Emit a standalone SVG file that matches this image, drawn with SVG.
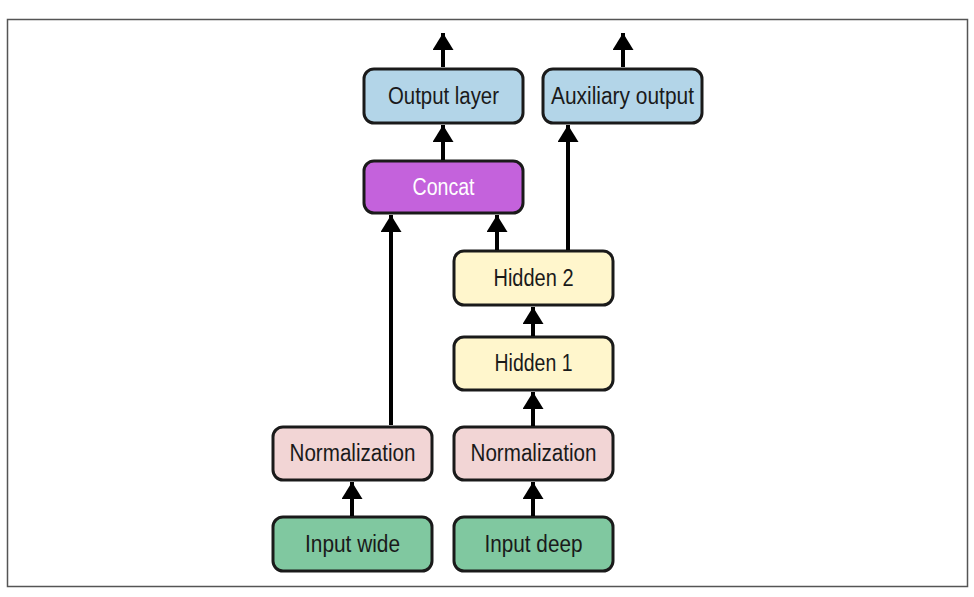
<svg xmlns="http://www.w3.org/2000/svg" width="974" height="597" viewBox="0 0 974 597">
<defs>
<marker id="ah" viewBox="0 0 17 21" refX="17" refY="10.5" markerWidth="4.25" markerHeight="5.25" orient="auto" markerUnits="strokeWidth">
<path d="M0,0 L17,10.5 L0,21 Z" fill="#000"/>
</marker>
</defs>
<style>
.node rect{stroke:#1a1a1a;stroke-width:3}
.node text{font-family:"Liberation Sans",Arial,sans-serif;font-size:23px;text-anchor:middle;fill:#1a1a1a}
.out rect{fill:#b3d5e8}
.cat rect{fill:#c462dc}
.cat text{fill:#fff}
.hid rect{fill:#fff6cc}
.nrm rect{fill:#f2d5d5}
.inp rect{fill:#80c8a0}
.conn line{stroke:#000;stroke-width:4;marker-end:url(#ah)}
</style>
<rect x="7.5" y="19.5" width="960" height="567" fill="#fff" stroke="#555" stroke-width="1.5"/>
<g id="output-layer" class="node out"><rect x="364" y="69" width="159" height="54" rx="10"/><text x="443.5" y="104" textLength="111" lengthAdjust="spacingAndGlyphs">Output layer</text></g>
<g id="auxiliary-output" class="node out"><rect x="543" y="69" width="159" height="54" rx="10"/><text x="622.5" y="104" textLength="143" lengthAdjust="spacingAndGlyphs">Auxiliary output</text></g>
<g id="concat" class="node cat"><rect x="364" y="161" width="159" height="52" rx="10"/><text x="443.5" y="195" textLength="62" lengthAdjust="spacingAndGlyphs">Concat</text></g>
<g id="hidden2" class="node hid"><rect x="454" y="251" width="159" height="54" rx="10"/><text x="533.5" y="286" textLength="80" lengthAdjust="spacingAndGlyphs">Hidden 2</text></g>
<g id="hidden1" class="node hid"><rect x="454" y="337" width="159" height="53" rx="10"/><text x="533.5" y="371" textLength="78" lengthAdjust="spacingAndGlyphs">Hidden 1</text></g>
<g id="norm-wide" class="node nrm"><rect x="273" y="427" width="159" height="53" rx="10"/><text x="352.5" y="461" textLength="126" lengthAdjust="spacingAndGlyphs">Normalization</text></g>
<g id="norm-deep" class="node nrm"><rect x="454" y="427" width="159" height="53" rx="10"/><text x="533.5" y="461" textLength="126" lengthAdjust="spacingAndGlyphs">Normalization</text></g>
<g id="input-wide" class="node inp"><rect x="273" y="517" width="159" height="54" rx="10"/><text x="352.5" y="552" textLength="95" lengthAdjust="spacingAndGlyphs">Input wide</text></g>
<g id="input-deep" class="node inp"><rect x="454" y="517" width="159" height="54" rx="10"/><text x="533.5" y="552" textLength="98" lengthAdjust="spacingAndGlyphs">Input deep</text></g>
<g id="connectors" class="conn">
<line x1="443" y1="67" x2="443" y2="33"/>
<line x1="623" y1="67" x2="623" y2="33"/>
<line x1="443" y1="160" x2="443" y2="125"/>
<line x1="391" y1="425" x2="391" y2="215"/>
<line x1="497" y1="250" x2="497" y2="215"/>
<line x1="568" y1="250" x2="568" y2="125"/>
<line x1="533" y1="336" x2="533" y2="307"/>
<line x1="533" y1="426" x2="533" y2="392"/>
<line x1="533" y1="516" x2="533" y2="482"/>
<line x1="352" y1="516" x2="352" y2="482"/>
</g>
</svg>
